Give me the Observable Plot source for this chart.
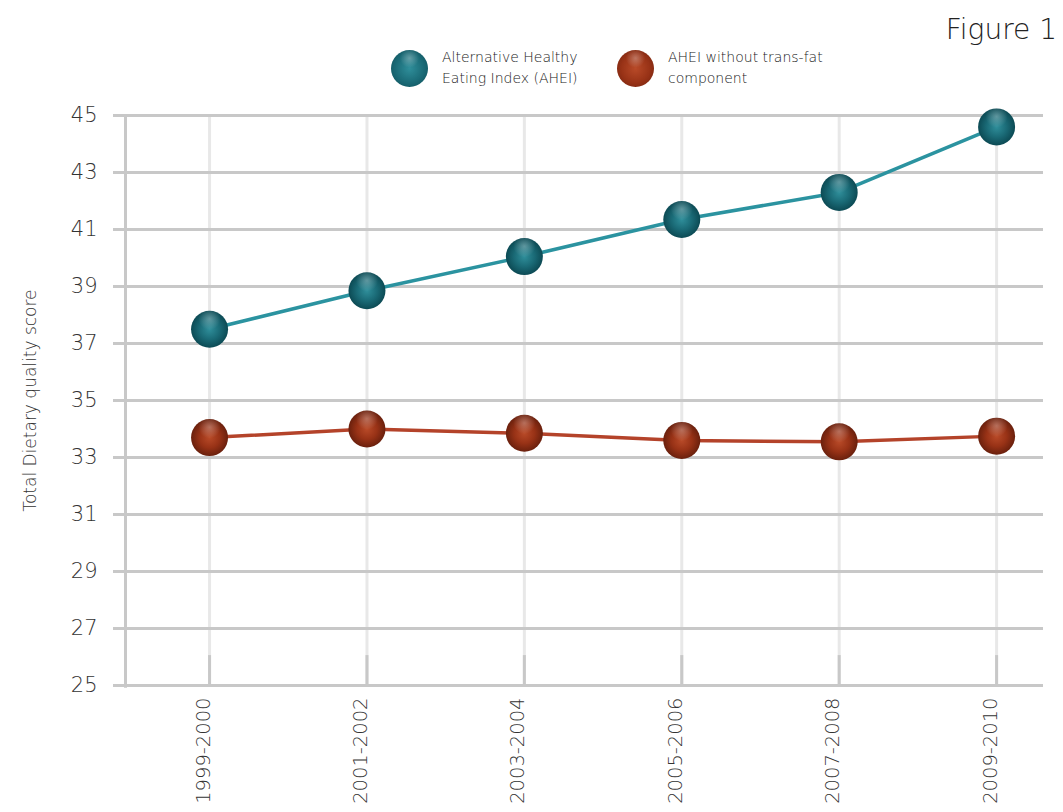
<!DOCTYPE html>
<html>
<head>
<meta charset="utf-8">
<script src="https://cdn.jsdelivr.net/npm/d3@7"></script>
<script src="https://cdn.jsdelivr.net/npm/@observablehq/plot@0.6"></script>
<style>
  html, body { margin: 0; padding: 0; background: #fff; }
  body { width: 1063px; height: 812px; position: relative; overflow: hidden; font-family: "DejaVu Sans", sans-serif; font-weight: 200; color: #333; }
  #header { position: relative; width: 1063px; height: 100px; }
  #fig { position: absolute; right: 6px; top: 13px; font-size: 28px; color: #222; font-weight: 200; }
  .leg { position: absolute; top: 47px; display: flex; align-items: center; }
  .ball { width: 37px; height: 37px; border-radius: 50%; margin-right: 14px; flex: none; }
  .leg span { font-size: 14px; line-height: 21px; color: #222; }
  #chart svg { display: block; }
</style>
</head>
<body>
<div id="header">
  <div id="fig">Figure 1</div>
  <div class="leg" style="left:391px"><div class="ball" id="b0"></div><span id="l0"></span></div>
  <div class="leg" style="left:617px"><div class="ball" id="b1"></div><span id="l1"></span></div>
</div>
<div id="chart"></div>
<script>
const periods = ["1999-2000", "2001-2002", "2003-2004", "2005-2006", "2007-2008", "2009-2010"];
const aheiValues = [37.5, 38.85, 40.05, 41.35, 42.3, 44.6];
const noTransValues = [33.7, 34.0, 33.85, 33.6, 33.55, 33.75];
const yTicks = [25, 27, 29, 31, 33, 35, 37, 39, 41, 43, 45];
const seriesNames = ["Alternative Healthy<br>Eating Index (AHEI)", "AHEI without trans-fat<br>component"];
const lineColors = ["#2b93a0", "#b4432a"];
const ballStops = [["#2f8e9a", "#1a6a76", "#0c4a54"], ["#b84a28", "#983216", "#6a200d"]];
const yLabel = "Total Dietary quality score";

const idx = periods.map((_, i) => i);
const rows = [];
[aheiValues, noTransValues].forEach((vals, s) => vals.forEach((v, i) => rows.push({i, v, s})));
const s0 = rows.filter(d => d.s === 0), s1 = rows.filter(d => d.s === 1);
const xDomain = [-0.534, 5.298];

// legend
seriesNames.forEach((n, s) => {
  document.getElementById("l" + s).innerHTML = n;
  const [a, b, c] = ballStops[s];
  document.getElementById("b" + s).style.background =
    `radial-gradient(circle at 50% 22%, rgba(255,255,255,0.3) 0%, rgba(255,255,255,0) 28%), radial-gradient(circle at 50% 50%, ${a} 0%, ${b} 55%, ${c} 100%)`;
});

const plot = Plot.plot({
  width: 1063,
  height: 712,
  marginTop: 15,
  marginBottom: 127,
  marginLeft: 125,
  marginRight: 20,
  style: {fontFamily: "'DejaVu Sans', sans-serif", fontWeight: 200, color: "#333", background: "transparent"},
  x: {type: "linear", domain: xDomain, axis: null},
  y: {domain: [25, 45], axis: null},
  marks: [
    Plot.ruleX(idx, {x: d => d, y1: 25, y2: 45, stroke: "#e8e8e8", strokeWidth: 3}),
    Plot.gridY(yTicks, {stroke: "#c8c8c8", strokeWidth: 3, strokeOpacity: 1}),
    Plot.axisY({ticks: yTicks, tickSize: 12, tickPadding: 16, stroke: "#c8c8c8", strokeWidth: 3, fill: "#333", fontSize: 21, label: null}),
    Plot.ruleX(idx, {x: d => d, y1: 25, y2: 26.05, stroke: "#c8c8c8", strokeWidth: 3}),
    Plot.ruleX([xDomain[0]], {y1: 24.9, y2: 45, stroke: "#c8c8c8", strokeWidth: 3}),
    Plot.ruleY([25], {stroke: "#c8c8c8", strokeWidth: 3}),
    Plot.text(idx, {x: d => d, text: d => periods[d], frameAnchor: "bottom", rotate: -90, textAnchor: "end", dy: 12, fontSize: 19.5, fill: "#333"}),
    Plot.text([yLabel], {frameAnchor: "left", rotate: -90, textAnchor: "middle", dx: -95, fontSize: 17, fill: "#333"}),
    Plot.line(s0, {x: "i", y: "v", stroke: lineColors[0], strokeWidth: 3.5}),
    Plot.line(s1, {x: "i", y: "v", stroke: lineColors[1], strokeWidth: 3.5}),
    Plot.dot(s0, {x: "i", y: "v", r: 18.5, fill: "url(#g0)", stroke: "none"}),
    Plot.dot(s1, {x: "i", y: "v", r: 18.5, fill: "url(#g1)", stroke: "none"}),
    Plot.dot(rows, {x: "i", y: "v", r: 18.5, fill: "url(#shine)", stroke: "none"})
  ]
});

const defs = d3.select(plot).insert("defs", ":first-child");
ballStops.forEach(([a, b, c], s) => {
  const g = defs.append("radialGradient").attr("id", "g" + s).attr("cx", "50%").attr("cy", "50%").attr("r", "50%");
  g.append("stop").attr("offset", "0%").attr("stop-color", a);
  g.append("stop").attr("offset", "55%").attr("stop-color", b);
  g.append("stop").attr("offset", "100%").attr("stop-color", c);
});
const sh = defs.append("radialGradient").attr("id", "shine").attr("cx", "50%").attr("cy", "22%").attr("r", "30%");
sh.append("stop").attr("offset", "0%").attr("stop-color", "#fff").attr("stop-opacity", 0.3);
sh.append("stop").attr("offset", "100%").attr("stop-color", "#fff").attr("stop-opacity", 0);

document.getElementById("chart").appendChild(plot);
</script>
</body>
</html>
